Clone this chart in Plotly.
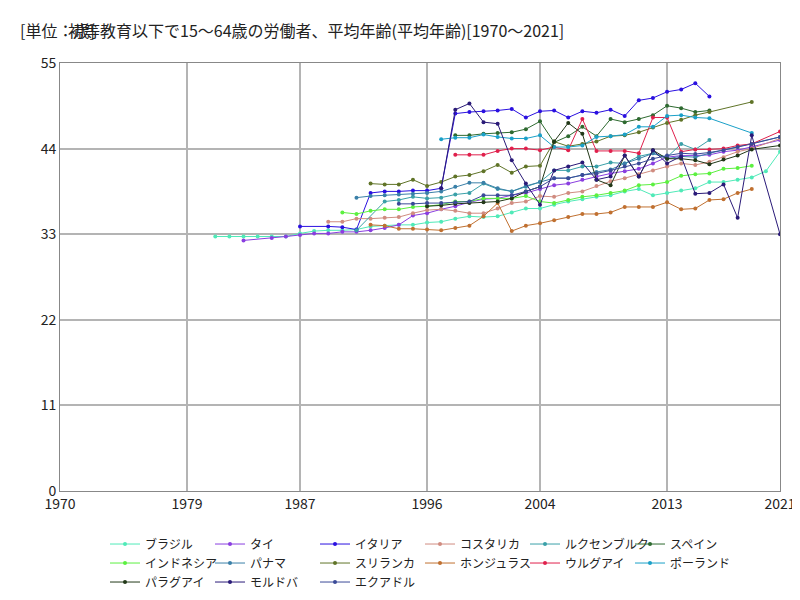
import plotly.graph_objects as go

# 年と値（参照図から読み取り）
brazil_years = list(range(1981, 2022))
brazil = [32.7, 32.7, 32.7, 32.7, 32.7, 32.7, 33.1, 33.4, 33.5, 33.5, 33.6, 34.0, 34.1, 34.2, 34.2, 34.5, 34.6, 35.0, 35.3, 35.2,
          35.3, 35.8, 36.3, 36.3, 36.8, 37.2, 37.5, 37.8, 38.0, 38.5, 38.8, 38.0, 38.3, 38.6, 38.9, 39.7, 39.7, 40.0, 40.3, 41.1, 43.6]

thai_years = [1983, 1985, 1986] + list(range(1987, 2020)) + [2021]
thai = [32.2, 32.5, 32.7, 32.9, 33.1, 33.1, 33.3, 33.3, 33.5, 33.8, 34.2, 35.4, 35.7, 36.2, 36.6, 37.1, 37.5,
        37.6, 38.0, 38.3, 38.8, 39.3, 39.5, 40.0, 40.4, 40.8, 41.1, 41.4, 42.1, 42.9, 43.1, 43.1, 43.2, 43.6, 43.8, 44.2, 45.1]

italy_years = [1987, 1989, 1990, 1991] + list(range(1992, 2017))
italy = [34.0, 34.0, 33.9, 33.6, 38.3, 38.5, 38.5, 38.6, 38.6, 38.9, 48.5, 48.7, 48.8,
         48.9, 49.1, 48.0, 48.8, 48.9, 48.0, 48.8, 48.6, 49.0, 48.2, 50.2, 50.5, 51.3, 51.6, 52.4, 50.7]

costa_years = list(range(1989, 2020)) + [2021]
costa = [34.6, 34.6, 35.0, 35.0, 35.1, 35.2, 35.7, 36.1, 36.2, 36.0, 35.7, 35.7,
         36.3, 37.0, 37.2, 37.9, 37.8, 38.3, 38.5, 39.2, 39.8, 40.2, 40.7, 41.2, 41.7, 42.1, 41.9, 42.3, 42.9, 43.6, 44.0, 45.3]

lux_years = [1991] + list(range(1993, 2017))
lux = [33.5, 37.2, 37.4, 37.8, 37.6, 37.7, 38.1, 38.3, 39.5,
       38.8, 38.5, 39.1, 39.7, 41.2, 41.2, 41.7, 41.7, 42.2, 42.1, 43.0, 43.4, 42.9, 44.6, 43.9, 45.1]

spain_years = list(range(1998, 2017))
spain = [45.7, 45.7, 45.9, 46.0, 46.1, 46.5, 47.5, 44.8, 45.6, 46.8, 45.6, 47.8, 47.4, 47.8, 48.3, 49.5, 49.2, 48.7, 48.9]

indo_years = list(range(1990, 2020))
indo = [35.8, 35.6, 36.0, 36.2, 36.2, 36.5, 36.6, 36.8, 37.2, 37.2, 37.6,
        37.6, 37.6, 37.9, 37.2, 37.0, 37.4, 37.8, 38.0, 38.3, 38.6, 39.3, 39.4, 39.7, 40.5, 40.7, 40.8, 41.4, 41.5, 41.8]

panama_years = list(range(1991, 2017)) + [2021]
panama = [37.7, 37.9, 38.0, 38.1, 38.2, 38.3, 38.5, 39.1, 39.6, 39.6,
          38.9, 38.5, 39.2, 39.7, 40.2, 40.2, 40.6, 41.0, 41.3, 42.1, 42.7, 43.4, 42.7, 43.0, 42.9, 43.4, 45.5]

srilanka_years = list(range(1992, 2017)) + [2019]
srilanka = [39.5, 39.4, 39.4, 40.0, 39.2, 39.7, 40.4, 40.6, 41.1,
            41.9, 40.9, 41.7, 41.8, 44.9, 44.3, 44.6, 44.9, 45.6, 45.7, 46.1, 46.7, 47.3, 47.7, 48.3, 48.7, 50.0]

honduras_years = list(range(1992, 2020))
honduras = [34.2, 34.1, 33.7, 33.7, 33.6, 33.5, 33.8, 34.1, 35.3,
            37.0, 33.4, 34.1, 34.4, 34.8, 35.2, 35.6, 35.6, 35.8, 36.5, 36.5, 36.5, 37.1, 36.2, 36.3, 37.4, 37.5, 38.3, 38.8]

uruguay_years = list(range(1998, 2020)) + [2021]
uruguay = [43.2, 43.2, 43.2, 43.7, 44.0, 44.0, 43.8, 44.2, 43.8, 47.8, 43.7, 43.7, 43.7, 43.4, 48.0, 48.0,
           43.6, 43.9, 43.9, 44.0, 44.4, 44.6, 46.2]

poland_years = list(range(1997, 2017)) + [2019]
poland = [45.2, 45.4, 45.4, 45.8, 45.5, 45.3, 45.3, 45.7, 44.2, 44.2, 44.4, 45.5, 45.6, 45.8, 46.8, 46.8,
          48.2, 48.3, 48.0, 47.9, 46.0]

paraguay_years = list(range(1996, 2020)) + [2021]
paraguay = [36.6, 36.7, 36.9, 37.0, 37.1, 37.2, 37.6, 38.5, 39.1, 44.9, 47.3, 45.9, 40.0, 39.3, 43.1, 40.4,
            43.8, 42.7, 42.7, 42.5, 42.0, 42.6, 43.1, 43.9, 44.4]

moldova_years = list(range(1997, 2020)) + [2021]
moldova = [38.9, 49.0, 49.8, 47.4, 47.2, 42.5, 39.5, 36.8, 41.2, 41.7, 42.2, 40.0, 40.4, 43.1, 40.4, 43.8,
           42.1, 43.0, 38.2, 38.3, 39.4, 35.1, 45.7, 33.0]

ecuador_years = list(range(1994, 2020)) + [2021]
ecuador = [36.9, 36.9, 37.0, 37.0, 37.1, 37.2, 38.0, 38.0, 38.0, 38.5, 39.1, 40.2, 40.2, 40.6, 40.8, 41.2,
           41.7, 42.1, 42.7, 43.1, 43.4, 43.3, 43.5, 43.8, 44.2, 44.6, 45.5]

series = [
    ("ブラジル", "#50eab8", brazil_years, brazil),
    ("タイ", "#8a3ee0", thai_years, thai),
    ("イタリア", "#2a10e0", italy_years, italy),
    ("コスタリカ", "#d08c80", costa_years, costa),
    ("ルクセンブルク", "#3aa0a8", lux_years, lux),
    ("スペイン", "#2e6a30", spain_years, spain),
    ("インドネシア", "#5cf040", indo_years, indo),
    ("パナマ", "#3a80a8", panama_years, panama),
    ("スリランカ", "#607428", srilanka_years, srilanka),
    ("ホンジュラス", "#c07030", honduras_years, honduras),
    ("ウルグアイ", "#e0204c", uruguay_years, uruguay),
    ("ポーランド", "#1aa0c8", poland_years, poland),
    ("パラグアイ", "#223818", paraguay_years, paraguay),
    ("モルドバ", "#2a1a78", moldova_years, moldova),
    ("エクアドル", "#3a4a98", ecuador_years, ecuador),
]

fig = go.Figure()
for name, color, xs, ys in series:
    fig.add_trace(go.Scatter(x=xs, y=ys, name=name, mode="lines+markers",
                             line=dict(color=color, width=1), marker=dict(color=color, size=4)))

axis = dict(showline=True, linecolor="#888", mirror=True, gridcolor="#b4b4b4", gridwidth=1.5,
            zeroline=False, ticks="", tickfont=dict(size=14, color="#222"))
fig.update_xaxes(range=[1970, 2021], tickvals=[1970, 1979, 1987, 1996, 2004, 2013, 2021], **axis)
fig.update_yaxes(range=[0, 55], tickvals=[0, 11, 22, 33, 44, 55], **axis)

# タイトル（参照図の重なった表示を再現）
title_y = (486 - 22) / 431
fig.add_annotation(text="[単位：歳]", x=(10 - 52) / 720, y=title_y, xref="paper", yref="paper",
                   xanchor="left", yanchor="middle", showarrow=False, font=dict(size=16))
fig.add_annotation(text="初等教育以下で15～64歳の労働者、平均年齢(平均年齢)[1970～2021]", x=(58 - 52) / 720,
                   y=title_y, xref="paper", yref="paper", xanchor="left", yanchor="middle",
                   showarrow=False, font=dict(size=16))

fig.update_layout(
    width=800, height=600, plot_bgcolor="white", paper_bgcolor="white",
    font=dict(family="Noto Sans CJK JP", size=13, color="#222"),
    margin=dict(l=52, r=28, t=55, b=114),
    showlegend=True,
    legend=dict(orientation="h", x=0.5, xanchor="center", y=-0.09, yanchor="top",
                font=dict(size=12), itemwidth=30, entrywidth=60, tracegroupgap=0),
)
fig.write_html("out.html")
